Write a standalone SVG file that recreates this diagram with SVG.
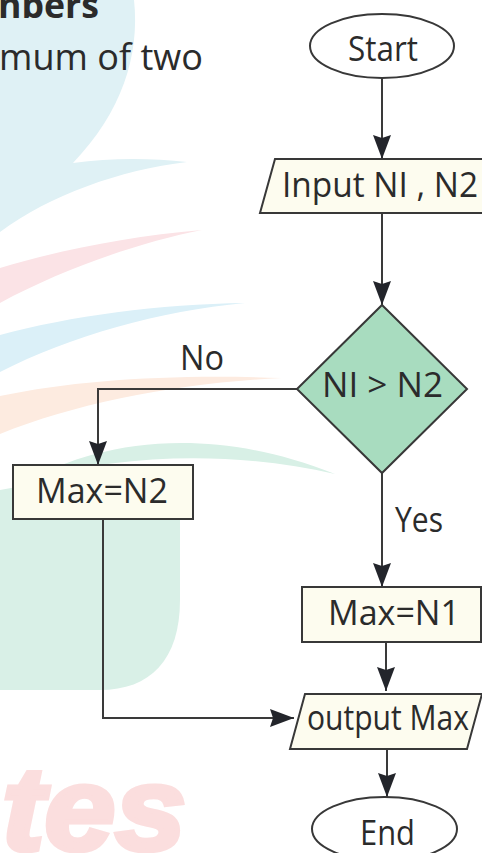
<svg xmlns="http://www.w3.org/2000/svg" width="482" height="853" viewBox="0 0 482 853">
  <style>
    .bg { stroke: none; }
    .shape { fill: #fdfcef; stroke: #383838; stroke-width: 2; }
    .term { fill: #ffffff; stroke: #383838; stroke-width: 2; }
    .decision { fill: #a8dcbf; stroke: #383838; stroke-width: 2; }
    .lbl { font-family: "Open Sans", "Noto Sans", sans-serif; font-size: 34px; fill: #2b2b2b; text-anchor: middle; }
    .edge { fill: none; stroke: #3a3a3a; stroke-width: 2; marker-end: url(#arrow); }
    .head { font-family: "Open Sans", "Noto Sans", sans-serif; fill: #2b2b2b; }
  </style>
  <defs>
    <marker id="arrow" markerUnits="userSpaceOnUse" viewBox="0 0 24 18" markerWidth="24" markerHeight="18" refX="24" refY="9" orient="auto">
      <path d="M0,0 L24,9 L0,18 L3,9 Z" fill="#23252b"/>
    </marker>
  </defs>

  <rect width="482" height="853" fill="#ffffff"/>

  <!-- background artwork -->
  <g id="backdrop">
    <path class="bg" fill="#dff1f5" d="M0,0 L134,0 C140,55 122,112 73,163 C110,158 150,158 187,162 C120,170 50,195 0,232 Z"/>
    <path class="bg" fill="#fbe3e6" d="M0,268 C60,250 130,236 202,230 C140,242 60,270 0,303 Z"/>
    <path class="bg" fill="#dbf0f8" d="M0,335 C70,316 160,304 245,303 C160,311 70,336 0,372 Z"/>
    <path class="bg" fill="#fdebe0" d="M0,396 C80,379 180,374 282,378 C180,383 80,402 0,434 Z"/>
    <path class="bg" fill="#d8f0e6" d="M30,480 C90,446 200,420 335,474 C240,452 130,452 30,480 Z"/>
    <path class="bg" fill="#d9f0e7" d="M0,490 C60,478 130,478 180,500 L180,600 C180,660 150,690 100,690 L0,690 Z"/>
    <text x="2" y="850" font-family="Liberation Sans, sans-serif" font-size="118" font-weight="700" font-style="italic" fill="#fbdede" stroke="#fbdede" stroke-width="5" textLength="184" lengthAdjust="spacingAndGlyphs">tes</text>
  </g>

  <!-- heading fragment -->
  <g id="heading">
    <text class="head" x="-2" y="18" font-size="35" font-weight="700" textLength="101" lengthAdjust="spacingAndGlyphs">nbers</text>
    <text class="head" x="-1" y="70" font-size="37" textLength="204" lengthAdjust="spacingAndGlyphs">mum of two</text>
  </g>

  <!-- connectors -->
  <g id="connectors">
    <path class="edge" d="M382,78 L382,159"/>
    <path class="edge" d="M382,213 L382,305"/>
    <path class="edge" d="M297,389 L98,389 L98,465"/>
    <path class="edge" d="M382,473 L382,587"/>
    <path class="edge" d="M386,642 L386,691"/>
    <path class="edge" d="M103,519 L103,718 L294,718"/>
    <path class="edge" d="M387,749 L387,797"/>
    <text class="lbl" x="202" y="370" textLength="44" lengthAdjust="spacingAndGlyphs">No</text>
    <text class="lbl" x="419" y="532" textLength="48" lengthAdjust="spacingAndGlyphs">Yes</text>
  </g>

  <!-- nodes -->
  <g id="start">
    <ellipse class="term" cx="382" cy="46" rx="72" ry="32"/>
    <text class="lbl" x="383" y="61" textLength="70" lengthAdjust="spacingAndGlyphs">Start</text>
  </g>
  <g id="input">
    <polygon class="shape" points="275,159 500,159 485,213 260,213"/>
    <text class="lbl" x="380" y="197" textLength="196" lengthAdjust="spacingAndGlyphs">Input NI , N2</text>
  </g>
  <g id="compare">
    <polygon class="decision" points="382,305 467,389 382,473 297,389"/>
    <text class="lbl" x="382.5" y="397" textLength="121" lengthAdjust="spacingAndGlyphs">NI &gt; N2</text>
  </g>
  <g id="max-n2">
    <rect class="shape" x="13" y="465" width="180" height="54"/>
    <text class="lbl" x="102" y="503" textLength="132" lengthAdjust="spacingAndGlyphs">Max=N2</text>
  </g>
  <g id="max-n1">
    <rect class="shape" x="302" y="587" width="179" height="55"/>
    <text class="lbl" x="394" y="625" textLength="132" lengthAdjust="spacingAndGlyphs">Max=N1</text>
  </g>
  <g id="output">
    <polygon class="shape" points="305,694 482,694 467,749 290,749"/>
    <text class="lbl" x="388" y="730" textLength="162" lengthAdjust="spacingAndGlyphs">output Max</text>
  </g>
  <g id="end">
    <ellipse class="term" cx="384.5" cy="829" rx="72.5" ry="32"/>
    <text class="lbl" x="387.5" y="845" textLength="55" lengthAdjust="spacingAndGlyphs">End</text>
  </g>
</svg>
